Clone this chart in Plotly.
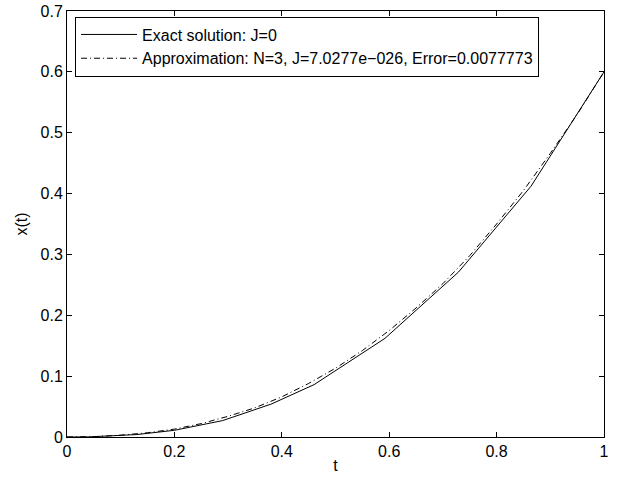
import plotly.graph_objects as go

t_exact = [0, 0.04, 0.13, 0.2, 0.29, 0.38, 0.46, 0.592, 0.729, 0.864, 1.0]
x_exact = [0, 0.0002, 0.004, 0.011, 0.027, 0.054, 0.086, 0.162, 0.271, 0.412, 0.6]

t_approx = [0, 0.05, 0.1, 0.15, 0.2, 0.25, 0.3, 0.35, 0.4, 0.45, 0.5, 0.55, 0.6,
            0.65, 0.7, 0.75, 0.8, 0.85, 0.9, 0.95, 1.0]
x_approx = [0, 0.0005, 0.003, 0.007, 0.013, 0.022, 0.034, 0.048, 0.066, 0.088, 0.113,
            0.142, 0.175, 0.212, 0.252, 0.298, 0.350, 0.405, 0.466, 0.530, 0.6]

label_exact = "Exact solution: J=0"
label_approx = "Approximation: N=3, J=7.0277e\u2212026, Error=0.0077773"

x_ticks = [0, 0.2, 0.4, 0.6, 0.8, 1]
x_ticklabels = ["0", "0.2", "0.4", "0.6", "0.8", "1"]
y_ticks = [0, 0.1, 0.2, 0.3, 0.4, 0.5, 0.6, 0.7]
y_ticklabels = ["0", "0.1", "0.2", "0.3", "0.4", "0.5", "0.6", "0.7"]

fig = go.Figure()
fig.add_trace(go.Scatter(x=t_exact, y=x_exact, mode="lines", name=label_exact,
                         line=dict(color="black", width=1)))
fig.add_trace(go.Scatter(x=t_approx, y=x_approx, mode="lines", name=label_approx,
                         line=dict(color="black", width=1, dash="6px,3px,1px,3px")))

axis_common = dict(showgrid=False, zeroline=False, showline=True, linecolor="black",
                   linewidth=1, mirror="ticks", ticks="inside", ticklen=5,
                   tickcolor="black", tickfont=dict(size=16, color="black"),
                   automargin=False)

fig.update_layout(
    width=620, height=477,
    margin=dict(l=67, r=16, t=11, b=40, autoexpand=False),
    paper_bgcolor="white", plot_bgcolor="white",
    font=dict(family="Liberation Sans, Arial, Helvetica, sans-serif", size=16, color="black"),
    xaxis=dict(range=[0, 1], tickvals=x_ticks, ticktext=x_ticklabels,
               title=dict(text="t", standoff=0, font=dict(size=16)), **axis_common),
    yaxis=dict(range=[0, 0.7], tickvals=y_ticks, ticktext=y_ticklabels,
               title=dict(text="x(t)", standoff=8, font=dict(size=16)), **axis_common),
    legend=dict(x=0.015, y=0.987, xanchor="left", yanchor="top",
                bgcolor="white", bordercolor="black", borderwidth=1,
                font=dict(size=16), itemwidth=56, tracegroupgap=0),
    showlegend=True,
)

fig.write_html("out.html", config={"displayModeBar": False},
               post_script="document.body.style.margin='0';")
